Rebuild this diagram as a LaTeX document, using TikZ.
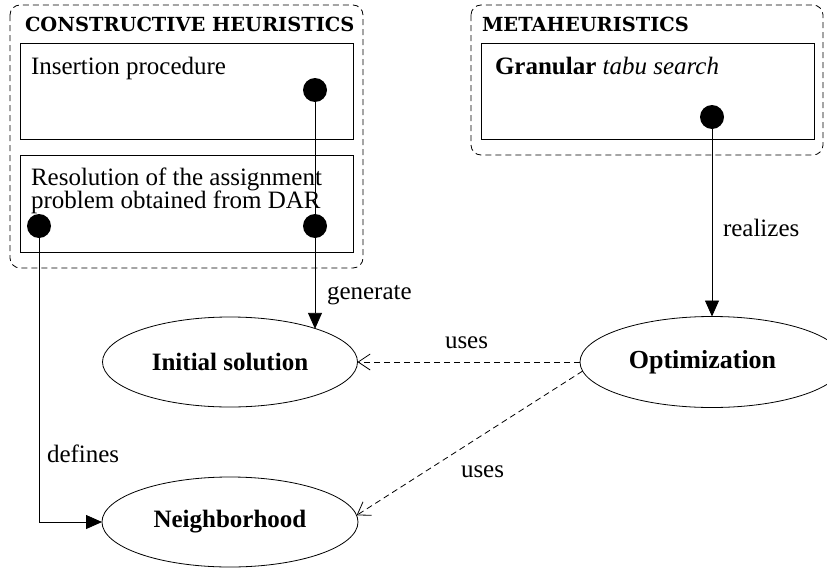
\documentclass[tikz,border=0pt]{standalone}
\usepackage{fontspec}
\setmainfont{Liberation Serif}
\newfontfamily\titlefont{DejaVu Serif}
\usetikzlibrary{shapes.geometric,arrows.meta}
\begin{document}
\begin{tikzpicture}[x=1pt,y=-1pt,
  line width=0.8pt,
  every node/.style={inner sep=0pt,outer sep=0pt},
  group/.style={draw,dash pattern=on 6pt off 4pt,rounded corners=10pt},
  panel/.style={draw,rectangle},
  pin/.style={circle,fill=black,minimum size=24pt},
  txt/.style={anchor=base west,font=\fontsize{25}{23}\selectfont,align=left},
  ttl/.style={anchor=base west,font=\titlefont\bfseries\fontsize{19.4}{22}\selectfont},
  concept/.style={draw,ellipse,font=\bfseries\fontsize{25}{25}\selectfont},
  lbl/.style={anchor=base west,font=\fontsize{25}{25}\selectfont},
  solid arrow/.style={-{Triangle[length=16pt,width=14pt]}},
  uses arrow/.style={dash pattern=on 6pt off 4pt,-{Straight Barb[length=12pt,width=16pt,line width=0.8pt]}}]
\useasboundingbox (0,0) rectangle (827,570);

% constructive heuristics group
\draw[group] (10,5) rectangle (363,268);
\node[ttl] (ctitle) at (25,31) {CONSTRUCTIVE HEURISTICS};
\node[panel,minimum width=333pt,minimum height=96pt] (ins) at (186.5,91) {};
\node[txt] (instext) at (31,74) {Insertion procedure};
\node[panel,minimum width=333pt,minimum height=97pt] (res) at (186.5,203.5) {};
\node[txt] (restext) at (31,208) {Resolution of the assignment\\problem obtained from DAR};

% metaheuristics group
\draw[group] (471,5) rectangle (823,155);
\node[ttl] (mtitle) at (482,31) {METAHEURISTICS};
\node[panel,minimum width=333pt,minimum height=96pt] (gts) at (647.5,91) {};
\node[txt] (gtstext) at (495,74) {\textbf{Granular} \textit{tabu search}};

% ports
\node[pin] (pins) at (315,90) {};
\node[pin] (pinr) at (315,226) {};
\node[pin] (pinl) at (39,226) {};
\node[pin] (ping) at (712,117) {};

% concepts
\node[concept,minimum width=255pt,minimum height=90pt] (init) at (230,362) {Initial solution};
\node[concept,minimum width=256pt,minimum height=90pt] (neigh) at (230,522) {Neighborhood};
\node[concept,minimum width=264pt,minimum height=91pt] (opt) at (712,362) {\hspace*{-19pt}\fontsize{26}{26}\selectfont Optimization};

% relations
\draw[solid arrow] (pins) -- (pins |- init.21.5);
\node[lbl] (lgen) at (327,299) {generate};
\draw[solid arrow] (pinl) |- (neigh.west);
\node[lbl] (ldef) at (47,462) {defines};
\draw[solid arrow] (ping) -- (ping |- opt.north);
\node[lbl] (lrea) at (723,236) {realizes};
\draw[uses arrow] (opt.west) -- (init.east);
\node[lbl] (luse1) at (445,348) {uses};
\draw[uses arrow] (opt.184) -- (neigh.3);
\node[lbl] (luse2) at (461,477) {uses};
\end{tikzpicture}
\end{document}
